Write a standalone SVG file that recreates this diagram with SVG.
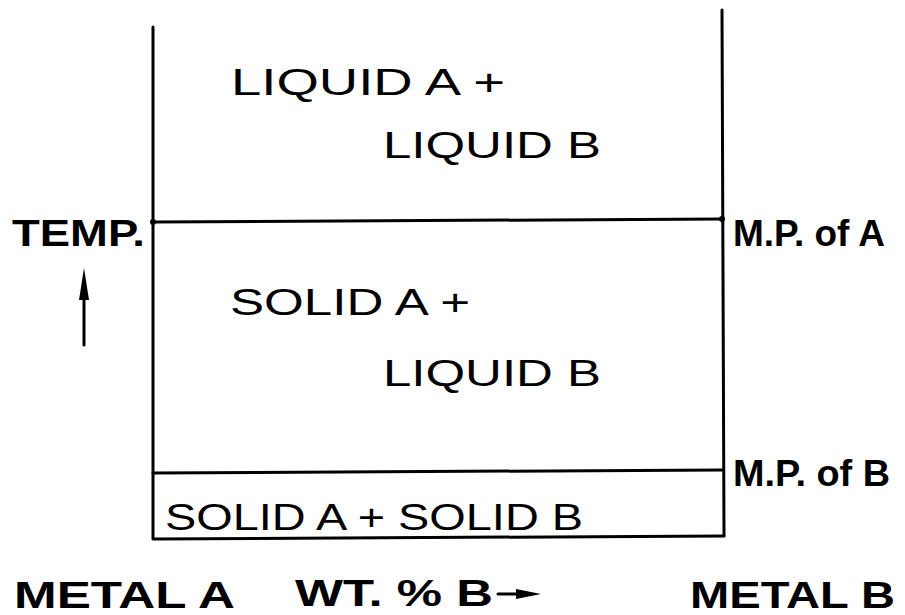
<svg xmlns="http://www.w3.org/2000/svg" width="905" height="615" viewBox="0 0 905 615">
<style>
.ln{stroke:#000;stroke-width:3;fill:none;stroke-linecap:round}
.t{font-family:"Liberation Sans",Arial,sans-serif;font-size:36px;fill:#000}
.b{font-weight:bold}
</style>
<rect width="905" height="615" fill="#fff"/>
<g id="frame">
<line class="ln" x1="153" y1="27" x2="153" y2="538"/>
<line class="ln" x1="722" y1="10" x2="724" y2="536"/>
<line class="ln" x1="153" y1="222" x2="722" y2="219"/>
<line class="ln" x1="153" y1="473" x2="722" y2="470"/>
<line class="ln" x1="153" y1="539" x2="724" y2="536"/>
<circle cx="153" cy="222" r="3"/>
<circle cx="722" cy="219" r="3"/>
</g>
<g id="regions">
<text class="t" x="231" y="95" textLength="274" lengthAdjust="spacingAndGlyphs">LIQUID A +</text>
<text class="t" x="383" y="158" textLength="218" lengthAdjust="spacingAndGlyphs">LIQUID B</text>
<text class="t" x="230" y="315" textLength="240" lengthAdjust="spacingAndGlyphs">SOLID A +</text>
<text class="t" x="383" y="386" textLength="218" lengthAdjust="spacingAndGlyphs">LIQUID B</text>
<text class="t" x="165" y="530" textLength="418" lengthAdjust="spacingAndGlyphs">SOLID A + SOLID B</text>
</g>
<g id="axes">
<text class="t b" x="12" y="246" textLength="133" lengthAdjust="spacingAndGlyphs">TEMP.</text>
<line class="ln" x1="84" y1="345" x2="84" y2="290" stroke-width="2.5"/>
<polygon points="84,268 79,300 89,300"/>
<text class="t b" x="733" y="246" textLength="152" lengthAdjust="spacingAndGlyphs">M.P. of A</text>
<text class="t b" x="733" y="486" textLength="157" lengthAdjust="spacingAndGlyphs">M.P. of B</text>
<text class="t b" x="14" y="608" textLength="221" lengthAdjust="spacingAndGlyphs">METAL A</text>
<text class="t b" x="295" y="606" textLength="198" lengthAdjust="spacingAndGlyphs">WT. % B</text>
<line class="ln" x1="498" y1="594" x2="525" y2="594" stroke-width="2.5"/>
<polygon points="541,594 516,589 516,599"/>
<text class="t b" x="690" y="608" textLength="205" lengthAdjust="spacingAndGlyphs">METAL B</text>
</g>
</svg>
